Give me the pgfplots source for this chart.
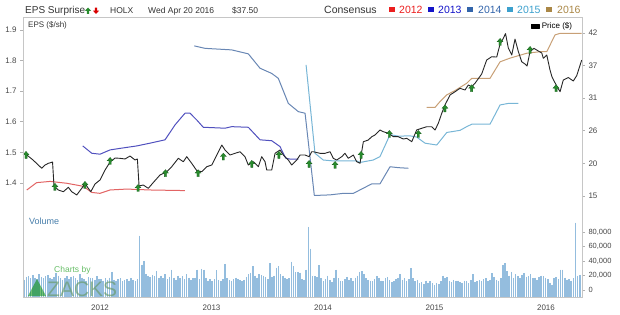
\documentclass[border=0pt]{standalone}
\usepackage{pgfplots}
\pgfplotsset{compat=1.18}
\usepackage{pgfplotstable}
\usepackage{fontspec}
\setmainfont{Liberation Sans}
\definecolor{c2012}{RGB}{226,100,100}
\definecolor{c2013}{RGB}{80,80,190}
\definecolor{c2014}{RGB}{105,135,180}
\definecolor{c2015}{RGB}{120,182,214}
\definecolor{c2016}{RGB}{200,160,118}
\definecolor{l2012}{RGB}{235,30,30}
\definecolor{l2013}{RGB}{20,20,200}
\definecolor{l2014}{RGB}{50,100,170}
\definecolor{l2015}{RGB}{60,160,205}
\definecolor{l2016}{RGB}{170,135,70}
\definecolor{volblue}{RGB}{148,189,222}
\definecolor{voltext}{RGB}{70,125,170}
\definecolor{epsgreen}{RGB}{40,140,45}
\definecolor{ticktext}{RGB}{70,70,70}
\pgfdeclareplotmark{epsup}{%
  \pgfpathmoveto{\pgfqpoint{0pt}{3.6pt}}%
  \pgfpathlineto{\pgfqpoint{3pt}{0.2pt}}%
  \pgfpathlineto{\pgfqpoint{1.1pt}{0.2pt}}%
  \pgfpathlineto{\pgfqpoint{1.1pt}{-3.4pt}}%
  \pgfpathlineto{\pgfqpoint{-1.1pt}{-3.4pt}}%
  \pgfpathlineto{\pgfqpoint{-1.1pt}{0.2pt}}%
  \pgfpathlineto{\pgfqpoint{-3pt}{0.2pt}}%
  \pgfpathclose
  \pgfusepathqfillstroke}

\pgfplotstableread{
yr price
2011.336 21.90
2011.399 20.96
2011.477 19.59
2011.507 20.13
2011.536 20.41
2011.567 20.58
2011.574 20.63
2011.587 16.66
2011.626 15.99
2011.671 15.71
2011.716 16.44
2011.746 15.71
2011.791 15.17
2011.836 16.27
2011.865 17.10
2011.895 16.27
2011.917 15.71
2011.955 16.99
2012.000 17.65
2012.045 19.30
2012.090 20.63
2012.135 21.29
2012.179 21.24
2012.224 21.13
2012.269 21.62
2012.314 20.96
2012.335 21.13
2012.350 16.66
2012.388 16.82
2012.433 16.27
2012.478 17.24
2012.538 18.48
2012.598 19.02
2012.643 19.85
2012.702 21.24
2012.747 20.68
2012.778 21.51
2012.822 20.41
2012.867 19.22
2012.912 19.02
2012.957 19.85
2013.002 20.13
2013.047 21.79
2013.092 23.44
2013.121 22.62
2013.166 21.79
2013.211 22.07
2013.256 22.33
2013.300 21.51
2013.330 20.13
2013.375 20.68
2013.420 19.85
2013.450 21.51
2013.480 20.68
2013.495 19.30
2013.540 19.30
2013.570 22.07
2013.614 22.62
2013.644 21.79
2013.689 20.96
2013.719 20.13
2013.764 20.96
2013.794 21.79
2013.839 21.79
2013.875 21.51
2013.899 22.33
2013.913 22.33
2013.973 22.07
2014.018 22.07
2014.063 22.33
2014.092 21.24
2014.123 20.96
2014.168 21.51
2014.197 22.07
2014.227 21.24
2014.272 21.79
2014.302 20.68
2014.332 20.41
2014.347 22.33
2014.362 23.99
2014.406 24.27
2014.437 24.82
2014.466 25.10
2014.511 25.93
2014.541 25.65
2014.586 25.38
2014.631 24.82
2014.675 24.82
2014.720 24.44
2014.751 24.55
2014.796 23.99
2014.840 25.93
2014.885 26.21
2014.930 26.47
2014.975 26.47
2015.005 25.93
2015.034 27.04
2015.065 28.69
2015.094 30.07
2015.139 31.72
2015.184 32.27
2015.229 32.83
2015.274 32.55
2015.303 33.38
2015.334 33.10
2015.363 33.66
2015.423 35.20
2015.468 37.52
2015.513 38.06
2015.558 38.01
2015.588 40.17
2015.614 40.99
2015.637 41.90
2015.662 39.50
2015.693 38.34
2015.722 40.99
2015.752 38.92
2015.782 37.23
2015.812 36.85
2015.830 36.52
2015.857 38.92
2015.892 39.45
2015.931 39.01
2015.962 38.68
2015.976 37.80
2016.007 38.34
2016.036 35.86
2016.054 34.70
2016.096 33.21
2016.126 32.27
2016.155 34.20
2016.200 34.62
2016.245 34.04
2016.276 34.95
2016.320 37.50
}\pricetable

\pgfplotstableread{
yr price
2011.336 21.79
2011.596 16.49
2011.865 16.82
2012.090 20.79
2012.341 16.32
2012.587 18.76
2012.879 18.76
2013.106 21.51
2013.361 20.30
2013.605 21.79
2013.875 20.30
2014.108 20.13
2014.341 21.79
2014.595 25.26
2014.855 25.26
2015.094 29.49
2015.334 32.83
2015.588 40.50
2015.857 39.17
2016.090 32.83
}\surprisetable

\pgfplotstableread[row sep=\\]{
v\\
14000\\ 18000\\ 19000\\ 16000\\ 21000\\ 17000\\ 15000\\ 22000\\ 18000\\ 16000\\ 19000\\ 21000\\ 17000\\ 15000\\ 18000\\ 24000\\ 20000\\ 16000\\ 14000\\ 17000\\ 19000\\ 15000\\ 18000\\ 20000\\ 16000\\ 14000\\ 22000\\ 17000\\ 15000\\ 13000\\ 18000\\ 17000\\ 16000\\ 14000\\ 19000\\ 15000\\
15000\\ 13000\\ 16000\\ 14000\\ 17000\\ 25000\\ 14000\\ 13000\\ 15000\\ 16000\\ 12000\\ 14000\\ 15000\\ 13000\\ 16000\\ 14000\\ 12000\\ 15000\\
75000\\ 35000\\ 40000\\ 22000\\ 20000\\ 18000\\ 21000\\ 19000\\ 26000\\ 17000\\ 20000\\ 16000\\ 22000\\ 15000\\ 18000\\ 28000\\ 17000\\ 14000\\ 20000\\ 16000\\ 19000\\ 15000\\ 22000\\ 17000\\
14000\\ 16000\\ 17000\\ 28000\\ 15000\\ 29000\\ 28000\\ 17000\\ 13000\\ 15000\\
12000\\ 15000\\ 27000\\ 14000\\ 13000\\ 15000\\ 36000\\ 16000\\ 14000\\ 13000\\ 15000\\ 17000\\ 15000\\ 14000\\ 12000\\ 14000\\
18000\\ 22000\\ 24000\\ 33000\\ 20000\\ 17000\\ 22000\\ 21000\\ 20000\\ 18000\\ 15000\\ 37000\\ 18000\\ 20000\\ 31000\\ 33000\\ 22000\\ 20000\\ 17000\\ 15000\\ 16000\\
39000\\ 33000\\ 25000\\ 25000\\ 24000\\ 15000\\ 14000\\ 28000\\ 87000\\ 57000\\ 20000\\ 19000\\ 18000\\ 34000\\ 16000\\
12000\\ 15000\\ 20000\\ 14000\\ 11000\\ 17000\\ 28000\\ 16000\\ 13000\\ 12000\\ 15000\\ 18000\\ 14000\\ 16000\\ 13000\\ 17000\\
20000\\ 25000\\ 26000\\ 22000\\ 16000\\ 14000\\ 13000\\ 12000\\ 15000\\ 19000\\ 17000\\
13000\\ 12000\\ 16000\\ 18000\\ 14000\\ 11000\\ 13000\\ 15000\\ 17000\\ 22000\\ 14000\\ 16000\\ 12000\\ 15000\\ 30000\\ 16000\\ 12000\\ 14000\\ 9000\\ 11000\\ 8000\\ 13000\\ 10000\\ 12000\\ 9000\\ 7000\\
10000\\ 8000\\ 12000\\ 20000\\ 16000\\ 18000\\ 13000\\ 11000\\ 14000\\ 12000\\ 13000\\ 11000\\ 10000\\ 13000\\ 12000\\ 9000\\ 14000\\ 22000\\ 11000\\ 12000\\ 14000\\ 13000\\ 15000\\ 16000\\ 12000\\ 14000\\ 23000\\ 18000\\ 14000\\
13000\\ 16000\\ 35000\\ 37000\\ 26000\\ 20000\\ 25000\\ 17000\\ 22000\\ 19000\\ 16000\\ 21000\\ 23000\\ 18000\\ 19000\\ 22000\\ 16000\\ 17000\\ 14000\\ 18000\\ 20000\\ 19000\\ 17000\\ 15000\\ 10000\\ 7000\\ 16000\\ 18000\\ 15000\\ 28000\\ 28000\\ 17000\\ 14000\\ 15000\\ 13000\\ 16000\\ 93000\\ 20000\\ 21000\\
}\voltable

\begin{document}
\begin{tikzpicture}[x=1pt,y=1pt]
\path[use as bounding box] (0,0) rectangle (620,314);

% ---------- EPS consensus (left axis)
\begin{axis}[
  at={(23pt,102pt)}, anchor=south west, scale only axis,
  width=559pt, height=195pt,
  xmin=2011.309, xmax=2016.323, ymin=1.305, ymax=1.9425,
  hide x axis, axis y line*=left, axis line style={draw=none},
  ytick={1.4,1.5,1.6,1.7,1.8,1.9},
  yticklabels={1.4,1.5,1.6,1.7,1.8,1.9},
  tick style={gray!60, line width=0.6pt}, major tick length=3pt,
  tick align=outside,
  yticklabel style={font=\fontsize{8}{9}\selectfont, text=ticktext},
  scaled y ticks=false,
  every axis plot/.append style={line width=1pt, mark=none, line join=round},
]
\addplot[c2012] coordinates {(2011.343,1.377) (2011.431,1.401) (2011.552,1.405) (2011.701,1.399) (2011.850,1.389) (2011.926,1.369) (2012.000,1.366) (2012.090,1.377) (2012.239,1.380) (2012.448,1.377) (2012.762,1.375)};
\addplot[c2013] coordinates {(2011.845,1.521) (2011.926,1.497) (2012.000,1.494) (2012.090,1.508) (2012.179,1.513) (2012.329,1.521) (2012.448,1.530) (2012.583,1.541) (2012.673,1.590) (2012.762,1.628) (2012.807,1.628) (2012.867,1.606) (2012.926,1.582) (2013.121,1.579) (2013.181,1.584) (2013.330,1.582) (2013.435,1.541) (2013.540,1.538) (2013.614,1.519) (2013.665,1.481) (2013.704,1.478) (2013.779,1.478)};
\addplot[c2014] coordinates {(2012.846,1.848) (2012.942,1.840) (2013.181,1.835) (2013.330,1.822) (2013.435,1.775) (2013.540,1.758) (2013.599,1.742) (2013.689,1.660) (2013.779,1.633) (2013.839,1.628) (2013.922,1.359) (2014.063,1.361) (2014.182,1.366) (2014.272,1.366) (2014.437,1.397) (2014.511,1.397) (2014.601,1.453) (2014.675,1.450) (2014.765,1.448)};
\addplot[c2015] coordinates {(2013.848,1.786) (2013.928,1.497) (2014.002,1.475) (2014.092,1.472) (2014.302,1.472) (2014.332,1.467) (2014.451,1.475) (2014.511,1.486) (2014.601,1.558) (2014.675,1.553) (2014.780,1.554) (2014.840,1.550) (2014.915,1.530) (2015.020,1.524) (2015.110,1.565) (2015.229,1.572) (2015.289,1.584) (2015.334,1.592) (2015.498,1.592) (2015.588,1.655) (2015.662,1.660) (2015.752,1.660)};
\addplot[c2016] coordinates {(2014.930,1.647) (2015.005,1.647) (2015.049,1.666) (2015.110,1.688) (2015.184,1.702) (2015.289,1.726) (2015.334,1.742) (2015.498,1.742) (2015.588,1.796) (2015.677,1.808) (2015.827,1.824) (2015.946,1.829) (2016.007,1.829) (2016.081,1.884) (2016.126,1.889) (2016.320,1.889)};
\end{axis}

% ---------- Price (right axis)
\begin{axis}[
  at={(23pt,102pt)}, anchor=south west, scale only axis,
  width=559pt, height=195pt,
  xmin=2011.309, xmax=2016.323, ymin=12.35, ymax=44.64,
  hide x axis, axis y line*=right, axis line style={draw=none},
  ytick={15,20.4,25.8,31.2,36.6,42},
  yticklabels={15,20,26,31,37,42},
  tick style={gray!60, line width=0.6pt}, major tick length=3pt,
  tick align=outside,
  yticklabel style={font=\fontsize{8}{9}\selectfont, text=ticktext},
  scaled y ticks=false,
  legend style={draw=none, fill=none, at={(0.987,0.985)}, anchor=north east,
    font=\fontsize{8}{9}\selectfont, inner sep=0.5pt},
  legend image code/.code={\fill[black] (0pt,-1.7pt) rectangle (8pt,1.7pt);},
]
\addplot[black!85, line width=0.9pt, mark=none, line join=round] table[x=yr, y=price] {\pricetable};
\addlegendentry{Price (\$)}
\addplot[forget plot, only marks, mark=epsup, mark options={fill=epsgreen, draw=epsgreen!70!black, line width=0.3pt}] table[x=yr, y=price] {\surprisetable};
\end{axis}

% ---------- Volume
\begin{axis}[
  at={(23pt,17pt)}, anchor=south west, scale only axis,
  width=559pt, height=83pt,
  xmin=2011.309, xmax=2016.323, ymin=-9650, ymax=104800,
  axis x line*=bottom, axis y line*=right, axis line style={draw=none},
  xtick={2012,2013,2014,2015,2016},
  xticklabels={2012,2013,2014,2015,2016},
  xtick style={draw=none},
  ytick={0,20000,40000,60000,80000},
  yticklabels={0,{20,000},{40,000},{60,000},{80,000}},
  scaled y ticks=false, scaled x ticks=false,
  ytick style={gray!60, line width=0.6pt}, major tick length=3pt,
  tick align=outside,
  yticklabel style={font=\fontsize{7.5}{9}\selectfont, text=ticktext},
  xticklabel style={font=\fontsize{8}{9}\selectfont, text=ticktext, yshift=-1.5pt},
  clip=true,
]
\addplot[draw=none, mark=none,
  error bars/.cd, y dir=minus, y fixed=200000, error mark=none,
  error bar style={draw=volblue, line width=1.6pt, line cap=butt}]
  table[x expr=2011.32+\coordindex/52.18, y=v] {\voltable};
\end{axis}

% ---------- frame
\draw[gray!45, line width=0.7pt] (23,17) rectangle (582,297);

% ---------- titles
\node[anchor=base west, inner sep=0, font=\fontsize{10}{12}\selectfont, text=black!80] at (25,300) {EPS Surprise};
\fill[epsgreen] (88,306.5) -- (91,303.2) -- (89.1,303.2) -- (89.1,300.2) -- (86.9,300.2) -- (86.9,303.2) -- (85,303.2) -- cycle;
\fill[red!85!black] (96,300) -- (99,303.3) -- (97.1,303.3) -- (97.1,306.3) -- (94.9,306.3) -- (94.9,303.3) -- (93,303.3) -- cycle;
\node[anchor=base west, inner sep=0, font=\fontsize{8.5}{10}\selectfont, text=black!80] at (110,300) {HOLX};
\node[anchor=base west, inner sep=0, font=\fontsize{8.5}{10}\selectfont, text=black!80] at (148,300) {Wed Apr 20 2016};
\node[anchor=base west, inner sep=0, font=\fontsize{8.5}{10}\selectfont, text=black!80] at (232,300) {\$37.50};
\node[anchor=base west, inner sep=0, font=\fontsize{10.5}{12}\selectfont, text=black!80] at (324,300.5) {Consensus};
\fill[l2012] (389,301.5) rectangle (395,307.3);
\node[anchor=base west, inner sep=0, font=\fontsize{10.5}{12}\selectfont, text=l2012] at (399,300.5) {2012};
\fill[l2013] (428,301.5) rectangle (434,307.3);
\node[anchor=base west, inner sep=0, font=\fontsize{10.5}{12}\selectfont, text=l2013] at (438,300.5) {2013};
\fill[l2014] (467,301.5) rectangle (473,307.3);
\node[anchor=base west, inner sep=0, font=\fontsize{10.5}{12}\selectfont, text=l2014] at (478,300.5) {2014};
\fill[l2015] (507,301.5) rectangle (513,307.3);
\node[anchor=base west, inner sep=0, font=\fontsize{10.5}{12}\selectfont, text=l2015] at (517,300.5) {2015};
\fill[l2016] (546,301.5) rectangle (552,307.3);
\node[anchor=base west, inner sep=0, font=\fontsize{10.5}{12}\selectfont, text=l2016] at (557,300.5) {2016};

\node[anchor=west, inner sep=0, font=\fontsize{8}{9}\selectfont, text=black!80] at (28,289) {EPS (\$/sh)};
\node[anchor=west, inner sep=0, font=\fontsize{9}{10}\selectfont, text=voltext] at (29,93) {Volume};

% ---------- watermark
\fill[green!55!black, opacity=0.55] (28,18) -- (46,18) -- (37,35) -- cycle;
\node[anchor=west, inner sep=0, font=\fontsize{8.5}{10}\selectfont, text=green!40!gray, opacity=0.85] at (54,44) {Charts by};
\node[anchor=base west, inner sep=0, font=\fontsize{21}{24}\selectfont, text=green!20!gray, opacity=0.65] at (47,18) {ZACKS};
\end{tikzpicture}
\end{document}
